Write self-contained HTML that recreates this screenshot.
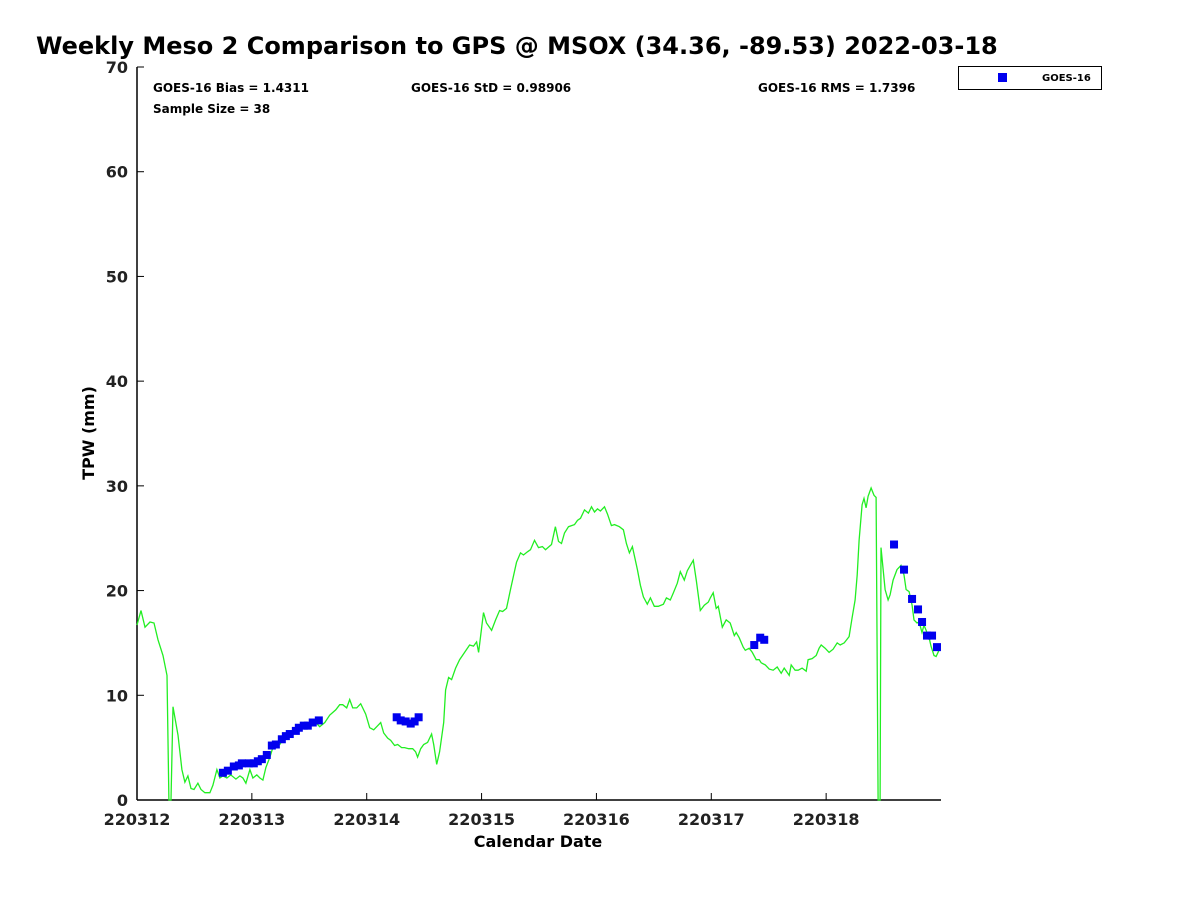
<!DOCTYPE html>
<html><head><meta charset="utf-8"><style>
body{margin:0;background:#fff;}
svg{display:block;font-family:"DejaVu Sans","Liberation Sans",sans-serif;}
</style></head><body>
<svg id="chart" width="1200" height="900">
<rect width="1200" height="900" fill="#fff"/>
<text x="36" y="54" font-size="24" font-weight="bold">Weekly Meso 2 Comparison to GPS @ MSOX (34.36, -89.53) 2022-03-18</text>
<text x="153" y="92" font-size="12" font-weight="bold">GOES-16 Bias = 1.4311</text>
<text x="411" y="92" font-size="12" font-weight="bold">GOES-16 StD = 0.98906</text>
<text x="758" y="92" font-size="12" font-weight="bold">GOES-16 RMS = 1.7396</text>
<text x="153" y="113" font-size="12" font-weight="bold">Sample Size = 38</text>
<g>
<rect x="958.5" y="66.5" width="143" height="23" fill="#fff" stroke="#000"/>
<rect x="998" y="73" width="9" height="9" fill="#0000ee"/>
<text x="1042" y="81" font-size="10" font-weight="bold">GOES-16</text>
</g>
<g id="axes"></g>
<g id="marks"></g>
<text x="538" y="847" font-size="16" font-weight="bold" text-anchor="middle">Calendar Date</text>
<text transform="translate(94,433) rotate(-90)" font-size="16" font-weight="bold" text-anchor="middle">TPW (mm)</text>
</svg>
<script>
const xTickLabels=["220312","220313","220314","220315","220316","220317","220318"];
const yTickValues=[0,10,20,30,40,50,60,70];
const gpsTime=[0,.035,.07,.113,.148,.183,.226,.261,.278,.296,.313,.357,.391,.417,.443,.47,.496,.53,.557,.591,.635,.661,.696,.722,.748,.783,.817,.861,.896,.922,.948,.983,1.009,1.043,1.07,1.096,1.122,1.157,1.191,1.243,1.278,1.313,1.348,1.383,1.435,1.47,1.504,1.557,1.591,1.635,1.678,1.73,1.765,1.791,1.826,1.852,1.878,1.913,1.948,1.991,2.026,2.061,2.096,2.122,2.148,2.183,2.209,2.243,2.27,2.304,2.33,2.365,2.4,2.426,2.443,2.47,2.496,2.53,2.565,2.583,2.609,2.635,2.67,2.687,2.713,2.739,2.774,2.809,2.852,2.896,2.93,2.957,2.974,3.017,3.043,3.087,3.122,3.157,3.183,3.217,3.252,3.278,3.304,3.339,3.365,3.4,3.426,3.461,3.496,3.53,3.557,3.609,3.643,3.67,3.696,3.722,3.757,3.809,3.835,3.861,3.896,3.93,3.957,3.983,4.009,4.035,4.07,4.096,4.13,4.157,4.2,4.235,4.261,4.287,4.313,4.357,4.383,4.409,4.443,4.47,4.504,4.539,4.583,4.609,4.643,4.67,4.704,4.73,4.765,4.791,4.817,4.843,4.87,4.904,4.939,4.974,4.991,5.017,5.043,5.061,5.096,5.13,5.165,5.2,5.217,5.243,5.278,5.296,5.33,5.357,5.391,5.417,5.435,5.47,5.504,5.539,5.574,5.609,5.635,5.678,5.696,5.73,5.757,5.791,5.826,5.843,5.878,5.913,5.939,5.957,5.991,6.026,6.061,6.096,6.122,6.157,6.2,6.226,6.252,6.27,6.287,6.313,6.33,6.348,6.365,6.391,6.417,6.435,6.452,6.47,6.478,6.513,6.539,6.557,6.583,6.617,6.652,6.678,6.696,6.722,6.748,6.765,6.791,6.809,6.835,6.852,6.878,6.896,6.913,6.939,6.957,6.983];
const gpsTpw=[16.7,18.1,16.5,17.0,16.9,15.3,13.8,11.9,0,0,8.9,6.2,2.9,1.7,2.3,1.1,1.0,1.6,1.0,0.7,0.7,1.4,2.9,2.1,2.3,2.1,2.4,2.0,2.3,2.1,1.6,2.9,2.1,2.4,2.1,1.9,3.1,4.1,5.3,5.3,5.9,6.2,6.2,6.7,7.4,7.3,7.0,7.4,7.0,7.4,8.1,8.6,9.1,9.1,8.8,9.6,8.8,8.8,9.2,8.2,6.9,6.7,7.1,7.4,6.4,5.9,5.7,5.2,5.3,5.0,5.0,4.9,4.9,4.6,4.1,4.9,5.3,5.5,6.3,5.3,3.4,4.6,7.4,10.5,11.7,11.5,12.6,13.4,14.1,14.8,14.7,15.1,14.1,17.9,16.9,16.2,17.2,18.1,18.0,18.3,20.1,21.4,22.7,23.6,23.4,23.7,23.9,24.8,24.1,24.2,23.9,24.4,26.1,24.7,24.5,25.5,26.1,26.3,26.7,26.9,27.7,27.4,28.0,27.5,27.8,27.6,28.0,27.3,26.2,26.3,26.1,25.8,24.5,23.6,24.2,22.0,20.5,19.4,18.7,19.3,18.5,18.5,18.7,19.3,19.1,19.8,20.7,21.8,21.0,21.9,22.4,22.9,20.9,18.1,18.6,18.9,19.3,19.8,18.3,18.5,16.5,17.2,16.9,15.7,16.0,15.5,14.6,14.3,14.5,14.1,13.4,13.4,13.1,12.9,12.5,12.4,12.7,12.1,12.6,11.9,12.9,12.4,12.4,12.6,12.3,13.4,13.5,13.8,14.5,14.8,14.5,14.1,14.4,15.0,14.8,15.0,15.6,17.4,19.1,21.5,24.8,28.2,28.8,27.9,29.0,29.8,29.1,28.9,0,0,24.1,20.1,19.1,19.6,21.0,22.0,22.4,21.5,20.1,19.9,18.6,17.2,16.9,17.0,16.0,16.7,16.0,15.5,14.7,13.8,13.7,14.3];
const goesTime=[.748,.791,.843,.887,.913,.974,1.017,1.052,1.087,1.13,1.174,1.209,1.261,1.296,1.33,1.383,1.409,1.452,1.487,1.53,1.583,2.261,2.296,2.339,2.383,2.417,2.452,5.374,5.426,5.461,6.591,6.678,6.748,6.8,6.835,6.878,6.922,6.965];
const goesTpw=[2.6,2.8,3.2,3.3,3.5,3.5,3.5,3.7,3.9,4.3,5.2,5.3,5.8,6.1,6.3,6.6,6.9,7.1,7.1,7.4,7.6,7.9,7.6,7.5,7.3,7.5,7.9,14.8,15.5,15.3,24.4,22.0,19.2,18.2,17.0,15.7,15.7,14.6];

const NS="http://www.w3.org/2000/svg";
const X0=137,X1=941,Y0=800,Y1=67,XMAX=7,YMAX=70;
const xs=d=>X0+(X1-X0)*d/XMAX;
const ys=v=>Y0-(Y0-Y1)*v/YMAX;
const axes=document.getElementById('axes'),marks=document.getElementById('marks');
function mk(tag,attrs,parent){const e=document.createElementNS(NS,tag);for(const k in attrs)e.setAttribute(k,attrs[k]);parent.appendChild(e);return e;}

const frameL=mk('line',{x1:X0,y1:Y1,x2:X0,y2:Y0,stroke:'#000','stroke-width':1.5},axes);


const frameB=mk('line',{x1:X0,y1:Y0,x2:X1,y2:Y0,stroke:'#000','stroke-width':1.5},axes);



yTickValues.forEach(v=>{
  const t=mk('line',{x1:X0,y1:ys(v),x2:X0+7,y2:ys(v),stroke:'#000'},axes);
  
  
  const l=mk('text',{x:X0-9,y:ys(v)+6,'font-size':16,'font-weight':'bold','text-anchor':'end',fill:'#222'},axes);
  l.textContent=v;
  
  
});
xTickLabels.forEach((s,i)=>{
  const t=mk('line',{x1:xs(i),y1:Y0,x2:xs(i),y2:Y0-7,stroke:'#000'},axes);
  
  
  const l=mk('text',{x:xs(i),y:Y0+25,'font-size':16,'font-weight':'bold','text-anchor':'middle',fill:'#222'},axes);
  l.textContent=s;
  
  
});

const pts=gpsTime.map((d,i)=>xs(d).toFixed(1)+','+ys(gpsTpw[i]).toFixed(1)).join(' ');
const line=mk('polyline',{points:pts,fill:'none',stroke:'#22ee22','stroke-width':1.3},marks);



goesTime.forEach((d,i)=>{
  const r=mk('rect',{x:xs(d)-4,y:ys(goesTpw[i])-4,width:8,height:8,fill:'#0000ee'},marks);
  
  
});
</script>
</body></html>
